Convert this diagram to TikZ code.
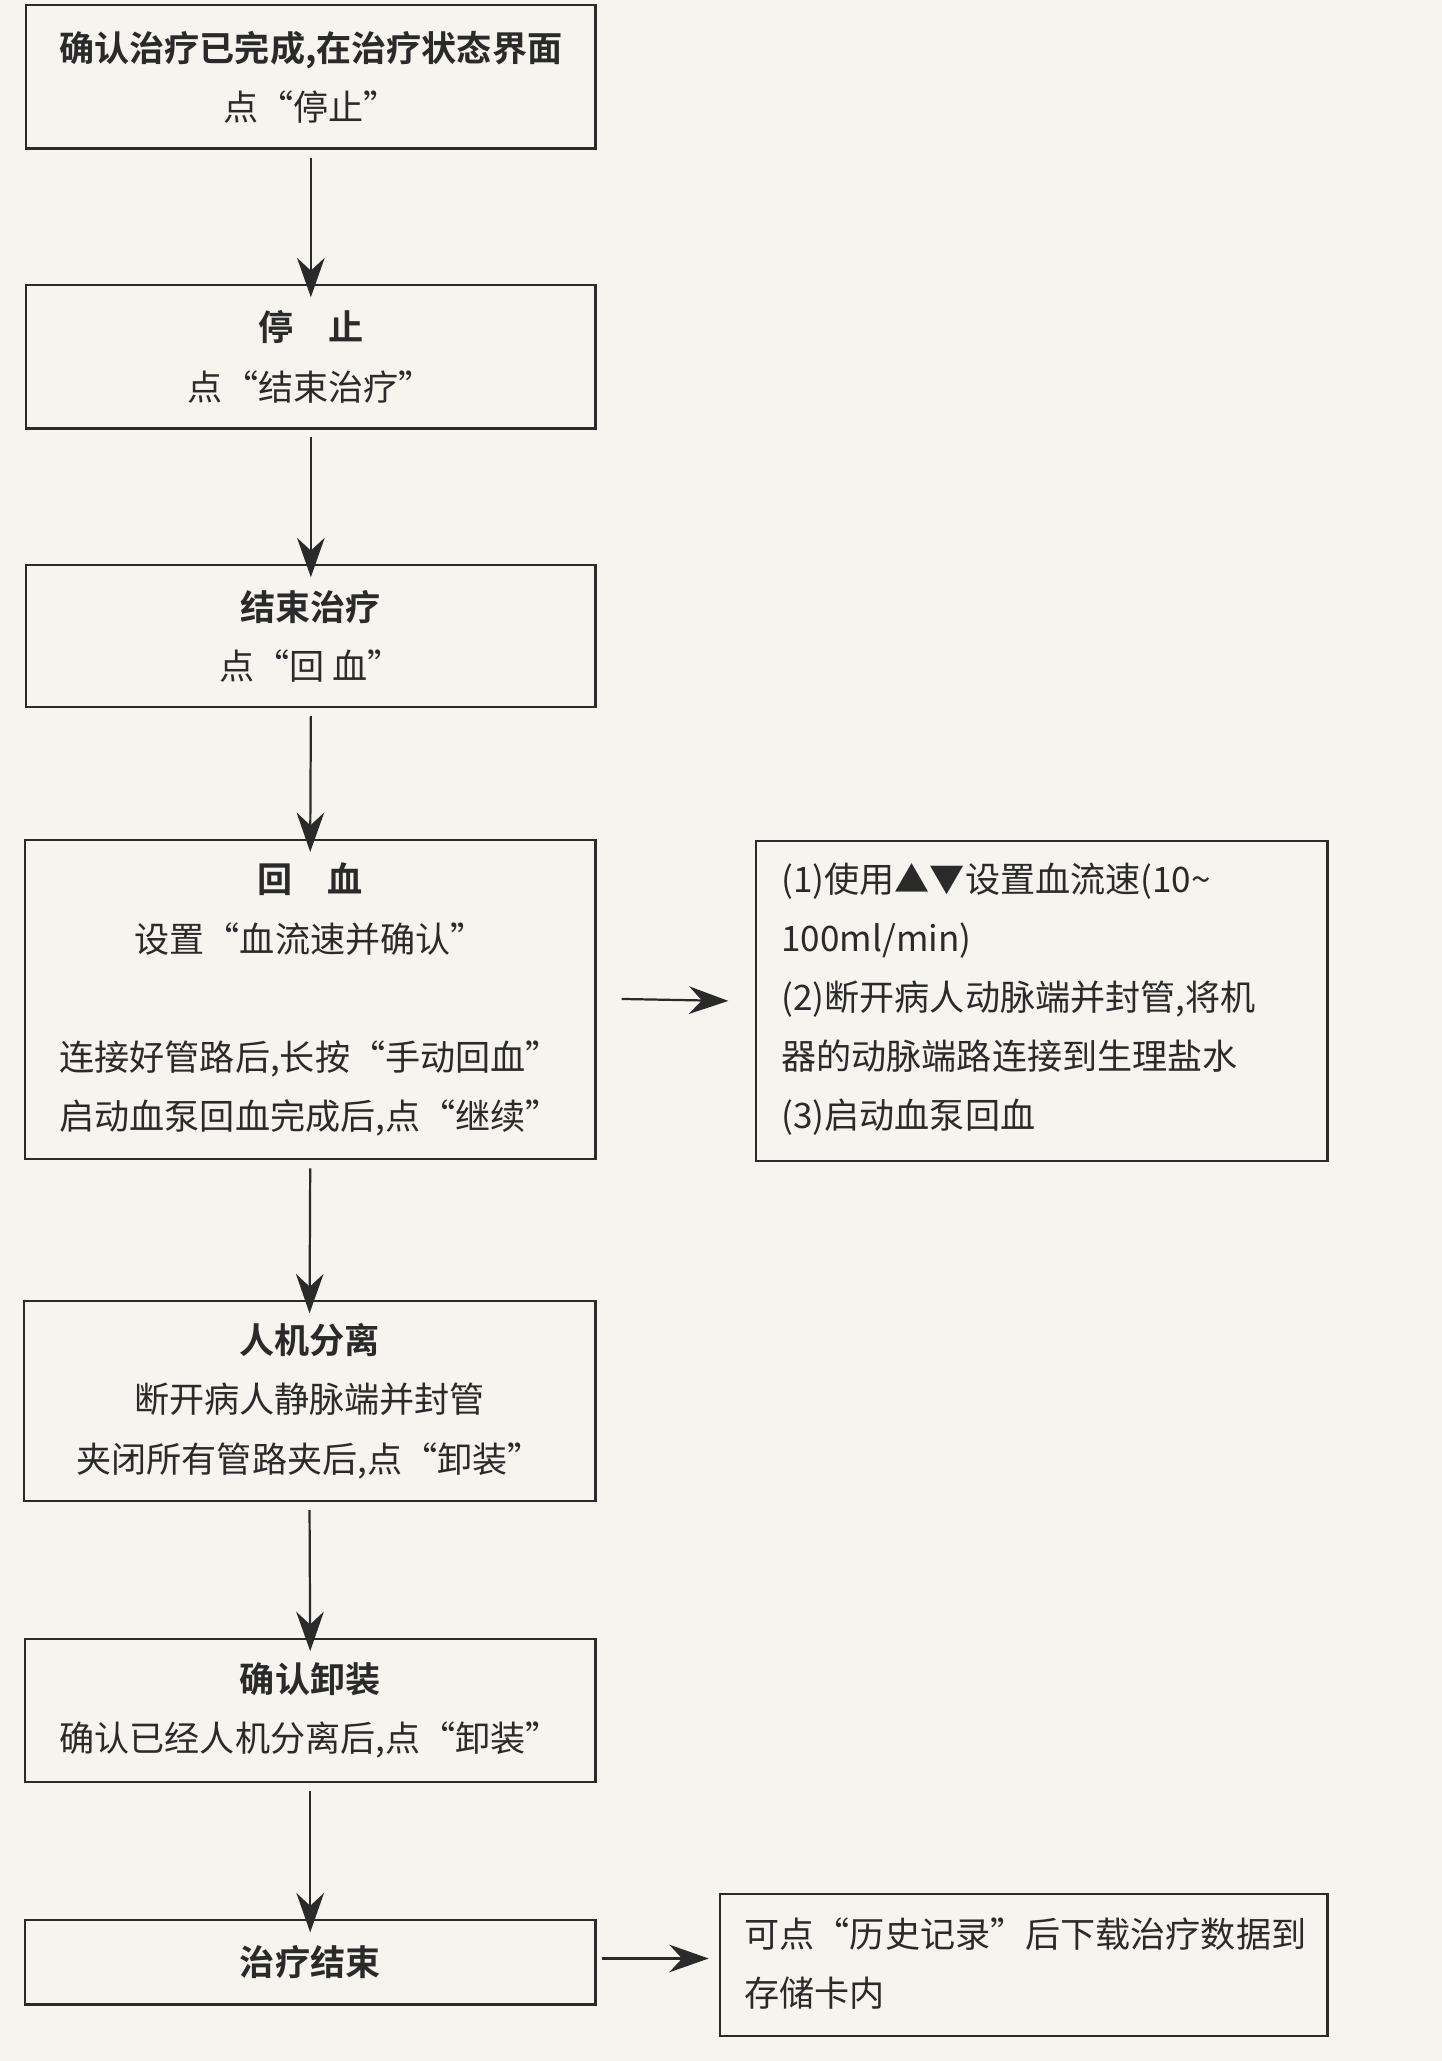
\documentclass[tikz,border=0pt]{standalone}
\usepackage{fontspec}
\setmainfont{Noto Sans CJK SC}[BoldFont={Noto Sans CJK SC Bold}]
\usetikzlibrary{arrows.meta}
\definecolor{paper}{HTML}{F6F4EE}
\definecolor{ink}{HTML}{2A2A2A}
\begin{document}
\begin{tikzpicture}[x=0.05cm,y=-0.05cm,
  every node/.style={font=\fontsize{38}{64}\selectfont, text=ink},
  flowbox/.style={draw=ink, line width=2.4pt, inner sep=0pt, align=center},
  arr/.style={draw=ink, line width=2.4pt, -{Stealth[length=1.5cm,width=1.05cm]}}]
\fill[paper] (0,0) rectangle (1097,1568);
\useasboundingbox (0,0) rectangle (1097,1568);
\node[flowbox, minimum width=21.65cm, minimum height=5.45cm] (b1) at (236.5,58.5)
  {\textbf{确认治疗已完成,在治疗状态界面}\\点“停止”};
\node[flowbox, minimum width=21.65cm, minimum height=5.45cm] (b2) at (236.5,271.5)
  {\textbf{停\quad 止}\\点“结束治疗”};
\node[flowbox, minimum width=21.65cm, minimum height=5.4cm] (b3) at (236.5,484)
  {\textbf{结束治疗}\\点“回\ 血”};
\node[flowbox, minimum width=21.7cm, minimum height=12.15cm] (b4) at (236,760.5)
  {\textbf{回\quad 血}\\设置“血流速并确认”\\[64pt]连接好管路后,长按“手动回血”\\启动血泵回血完成后,点“继续”};
\node[flowbox, minimum width=21.75cm, minimum height=7.6cm] (b5) at (235.5,1066)
  {\textbf{人机分离}\\断开病人静脉端并封管\\夹闭所有管路夹后,点“卸装”};
\node[flowbox, minimum width=21.7cm, minimum height=5.45cm] (b6) at (236,1301.5)
  {\textbf{确认卸装}\\确认已经人机分离后,点“卸装”};
\node[flowbox, minimum width=21.7cm, minimum height=3.2cm] (b7) at (236,1493)
  {\textbf{治疗结束}};
\node[flowbox, minimum width=21.75cm, minimum height=12.15cm] (ra) at (792.5,761.5) {};
\node[anchor=west, align=left] (ta) at (592,760)
  {(1)使用▲▼设置血流速(10\textasciitilde\\100ml/min)\\(2)断开病人动脉端并封管,将机\\器的动脉端路连接到生理盐水\\(3)启动血泵回血};
\node[flowbox, minimum width=23.1cm, minimum height=5.4cm] (rb) at (779,1495) {};
\node[anchor=west, align=left] (tb) at (564,1494)
  {可点“历史记录”后下载治疗数据到\\存储卡内};
\draw[arr] ([yshift=-0.3cm]b1.south) -- ([yshift=-0.5cm]b2.north);
\draw[arr] ([yshift=-0.3cm]b2.south) -- ([yshift=-0.5cm]b3.north);
\draw[arr] ([yshift=-0.3cm]b3.south) -- ([yshift=-0.5cm]b4.north);
\draw[arr] ([yshift=-0.3cm]b4.south) -- ([yshift=-0.5cm]b5.north);
\draw[arr] ([yshift=-0.3cm]b5.south) -- ([yshift=-0.5cm]b6.north);
\draw[arr] ([yshift=-0.3cm]b6.south) -- ([yshift=-0.5cm]b7.north);
\coordinate (a1) at (473,760);
\draw[arr] (a1) -- ([xshift=-1cm]ra.west);
\coordinate (a2) at (458,1490);
\draw[arr] (a2) -- ([xshift=-0.4cm]rb.west |- a2);
\end{tikzpicture}
\end{document}
